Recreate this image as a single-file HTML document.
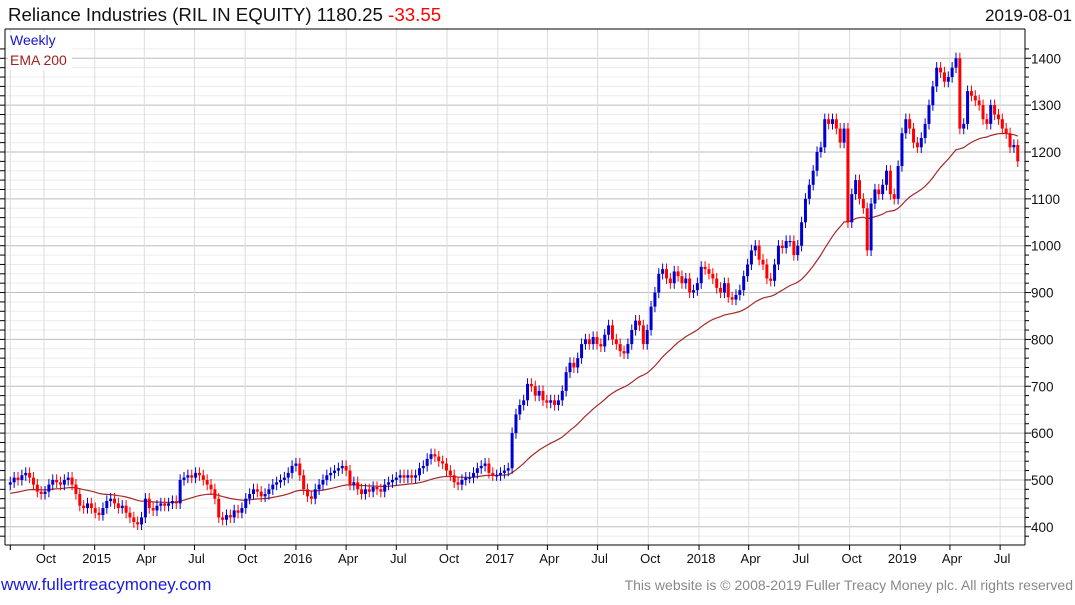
<!DOCTYPE html>
<html><head><meta charset="utf-8"><style>
body{margin:0;background:#fff;font-family:"Liberation Sans",sans-serif}
</style></head><body>
<svg id="c" width="1075" height="600" xmlns="http://www.w3.org/2000/svg" font-family="Liberation Sans, sans-serif">
<text x="8" y="21" font-size="18.7" fill="#111">Reliance Industries (RIL IN EQUITY) 1180.25 <tspan fill="#f00">-33.55</tspan></text>
<text x="1072" y="21" font-size="17" fill="#111" text-anchor="end">2019-08-01</text>
<g id="grid"></g><g id="ema"></g><g id="candles"></g><g id="axes"></g>
<rect x="8" y="32" width="64" height="38" fill="#fff"/>
<text x="10" y="45" font-size="14" fill="#1515d0">Weekly</text>
<text x="10" y="65" font-size="14" fill="#a02020">EMA 200</text>
<text x="1" y="590" font-size="17" fill="#1a1ae0">www.fullertreacymoney.com</text>
<text x="1073" y="590" font-size="14" fill="#888" text-anchor="end">This website is © 2008-2019 Fuller Treacy Money plc. All rights reserved</text>
</svg>
<script>
const closes=[495,505,500,510,515,505,490,475,470,
475,490,500,495,490,500,505,490,470,445,440,450,440,
430,425,440,455,460,450,440,445,430,420,410,405,420,
460,440,435,445,450,445,450,455,450,500,505,510,505,
515,510,500,490,480,460,420,415,425,420,435,430,440,
460,470,480,475,465,470,480,490,495,500,505,515,530,
535,510,480,465,460,480,490,500,510,515,520,525,530,
520,490,495,480,470,480,475,485,480,475,490,495,500,
505,510,505,510,505,510,525,530,545,555,550,540,535,
520,510,495,490,500,505,505,515,525,530,535,515,510,
510,515,520,525,600,640,660,670,705,700,680,690,670,
665,670,660,670,690,730,750,740,760,790,800,790,805,
790,785,810,830,800,790,775,770,790,820,840,830,790,
820,870,900,940,950,930,920,945,935,920,930,900,905,
920,955,950,940,930,910,900,920,890,885,895,905,935,
960,990,1000,970,960,930,925,960,1000,995,1010,1010,980,
1000,1050,1100,1130,1160,1200,1210,1270,1260,1270,1250,1220,1250,
1050,1110,1140,1100,1080,990,1090,1120,1110,1130,1160,1110,1100,
1170,1240,1270,1250,1220,1210,1230,1260,1300,1340,1380,1370,1350,
1360,1380,1400,1250,1260,1330,1320,1310,1300,1270,1260,1300,1280,
1270,1250,1240,1210,1215,1180];
const firstOpen=490;
const emaSeed=470;
const yTicks=[400,500,600,700,800,900,1000,1100,1200,1300,1400];
const xTickLabels=["","Oct","2015","Apr","Jul","Oct","2016","Apr","Jul","Oct","2017","Apr","Jul","Oct","2018","Apr","Jul","Oct","2019","Apr","Jul"];
const xTickDates=["2014-08-01","2014-10-01","2015-01-01","2015-04-01","2015-07-01","2015-10-01","2016-01-01","2016-04-01","2016-07-01","2016-10-01","2017-01-01","2017-04-01","2017-07-01","2017-10-01","2018-01-01","2018-04-01","2018-07-01","2018-10-01","2019-01-01","2019-04-01","2019-07-01"];
const NS="http://www.w3.org/2000/svg";
const L=5,R=1025,T=29,B=545;
const y=v=>58.3+(1400-v)*0.4685;
const xi=i=>10.3+i*3.86;
const xd=d=>10.3+((new Date(d)-new Date("2014-08-01"))/864e5/7)*3.86;
function mk(p,tag,a){const e=document.createElementNS(NS,tag);for(const k in a)e.setAttribute(k,a[k]);p.appendChild(e);return e;}
const grid=document.getElementById('grid'),ax=document.getElementById('axes');
mk(grid,'rect',{x:L,y:T,width:R-L,height:B-T,fill:'#fff'});
for(let v=380;v<=1420;v+=20){const yy=y(v);if(yy<T||yy>B)continue;
 const g=mk(grid,'line',{x1:L,x2:R,y1:yy,y2:yy,stroke:v%100?'#ececec':'#bdbdbd','stroke-width':1});
 
 mk(ax,'line',{x1:R,x2:R+(v%100?4:6),y1:yy,y2:yy,stroke:'#000'});
 mk(ax,'line',{x1:0,x2:L,y1:yy,y2:yy,stroke:'#000'});}
xTickDates.forEach((d,i)=>{const xx=xd(d);
 const g=mk(grid,'line',{x1:xx,x2:xx,y1:T,y2:B,stroke:'#dcdcdc'});
 
 mk(ax,'line',{x1:xx,x2:xx,y1:B,y2:B+5,stroke:'#000'});
 const t=mk(ax,'text',{x:xx+2,y:563,'font-size':13,'text-anchor':'middle',fill:'#111'});t.textContent=xTickLabels[i];
 });
yTicks.forEach(v=>{const t=mk(ax,'text',{x:1031,y:y(v)+5,'font-size':13.5,fill:'#111'});t.textContent=v;
 });
mk(ax,'line',{x1:L,x2:L,y1:T,y2:B,stroke:'#000'});
mk(ax,'line',{x1:R,x2:R,y1:T,y2:B,stroke:'#000'});
mk(ax,'line',{x1:L,x2:R,y1:B,y2:B,stroke:'#000'});
mk(ax,'line',{x1:L,x2:R,y1:T,y2:T,stroke:'#000'});
let e=emaSeed,pts=[];const a=2/41;
closes.forEach((c,i)=>{e=e+a*(c-e);pts.push(xi(i).toFixed(1)+','+y(e).toFixed(1));});
const pl=mk(document.getElementById('ema'),'polyline',{points:pts.join(' '),fill:'none',stroke:'#a52a2a','stroke-width':1.2});

const cg=document.getElementById('candles');
closes.forEach((c,i)=>{const o=i?closes[i-1]:firstOpen;const up=c>=o;const col=up?'#0000d0':'#f00';
 const hi=Math.max(o,c)+12,lo=Math.min(o,c)-12,xx=xi(i);
 const g=mk(cg,'g',{});
 
 mk(g,'line',{x1:xx,x2:xx,y1:y(hi),y2:y(lo),stroke:col,'stroke-width':1});
 const t=y(Math.max(o,c)),bt=y(Math.min(o,c));
 mk(g,'rect',{x:xx-1.5,y:t,width:3,height:Math.max(1.2,bt-t),fill:col});});
</script>
</body></html>
